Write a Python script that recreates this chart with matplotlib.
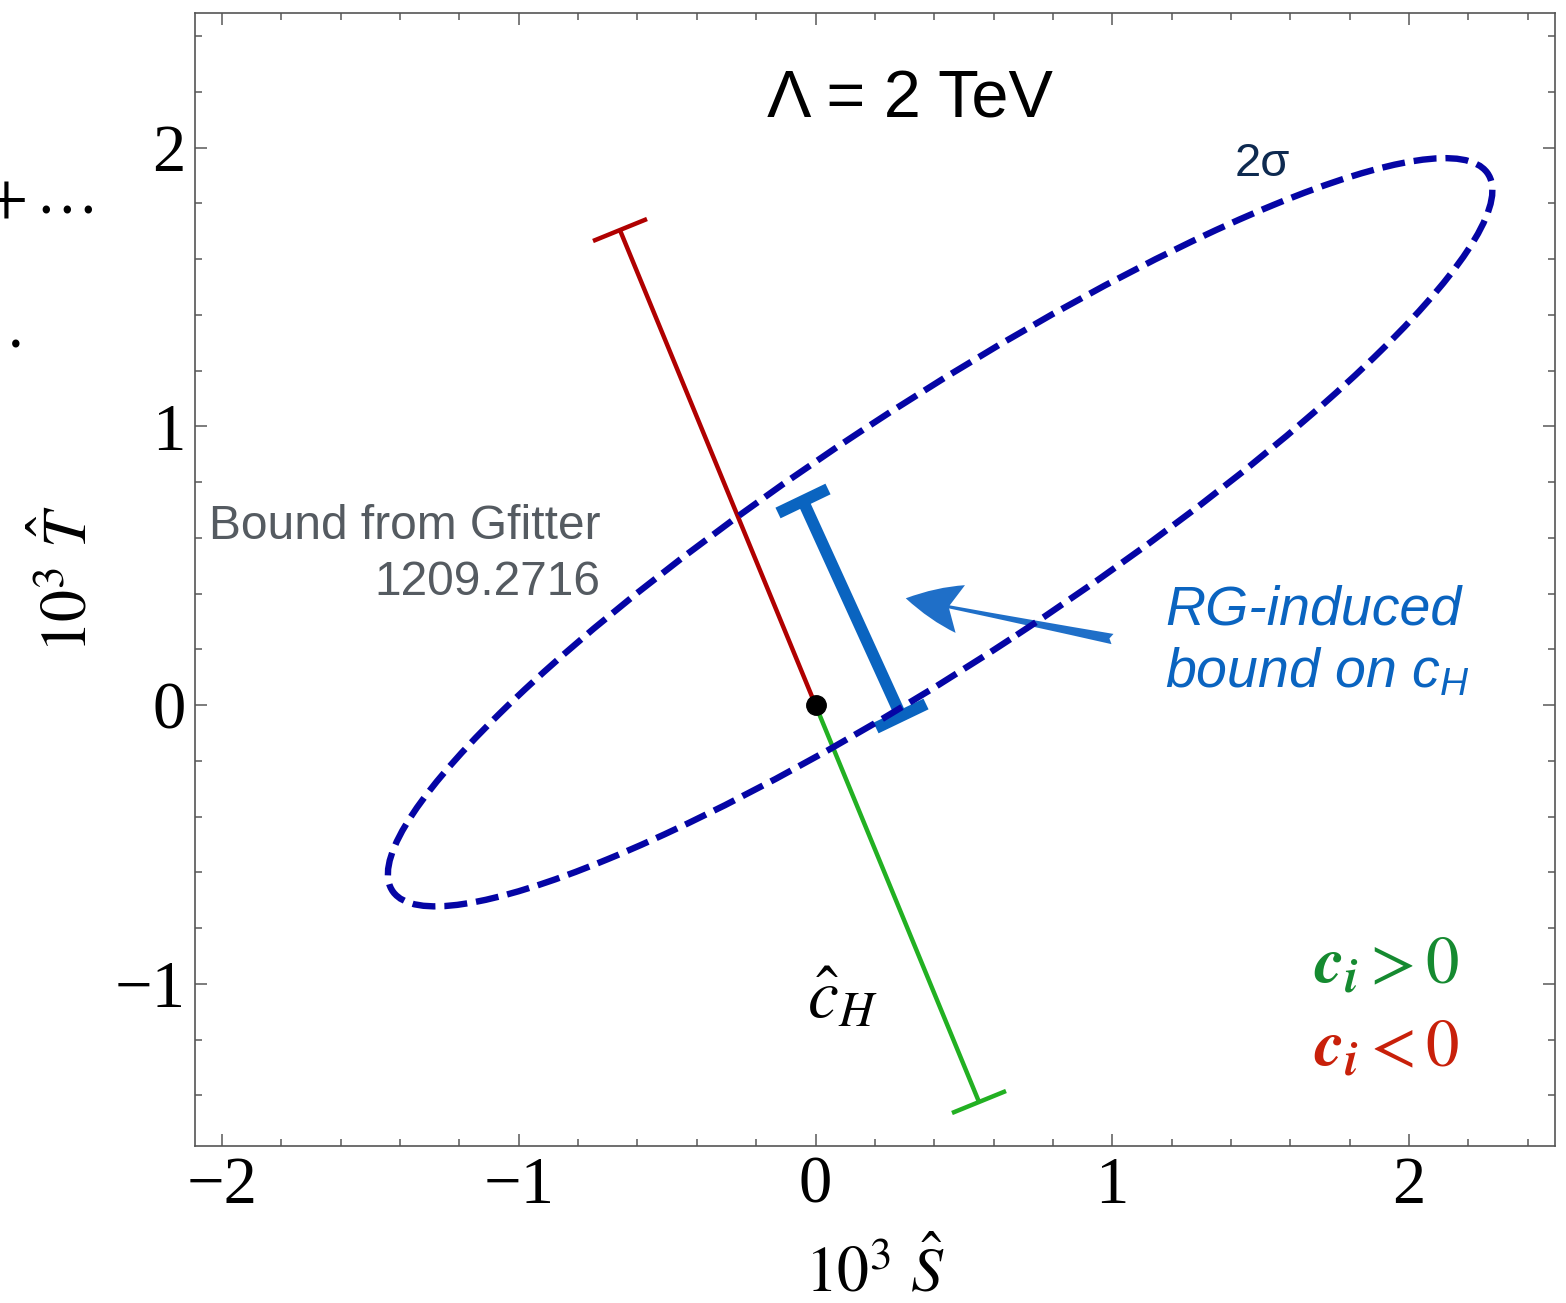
import numpy as np
import matplotlib
matplotlib.use("Agg")
import matplotlib.pyplot as plt
from matplotlib.patches import Ellipse
from matplotlib.markers import MarkerStyle
from matplotlib.transforms import Affine2D

# 2 sigma Gfitter ellipse in the (S, T) plane
ellipse_center = (0.42, 0.62)
ellipse_half_axes = (2.25, 0.45)
ellipse_angle = 35.0

# c_H direction: end points of the two branches
ch_origin = (0.0, 0.0)
ch_negative_end = (-0.659, 1.704)
ch_positive_end = (0.551, -1.424)

# RG-induced bound on c_H
rg_bound_S = [-0.042, 0.288]
rg_bound_T = [0.732, -0.039]

# pointer from the label to the bound
arrow_tail = (1.01, 0.235)
arrow_tip = (0.295, 0.385)

x_ticks = [-2, -1, 0, 1, 2]
y_ticks = [-1, 0, 1, 2]

plt.rcParams["font.family"] = ["Liberation Serif", "DejaVu Serif"]
plt.rcParams["mathtext.fontset"] = "stix"
# sans italic maths, only used where asked for through math_fontfamily
plt.rcParams["mathtext.rm"] = "Liberation Sans"
plt.rcParams["mathtext.it"] = "Liberation Sans:italic"

fig = plt.figure(figsize=(15.66, 13.03), dpi=100)
ax = fig.add_axes([195 / 1566, 157 / 1303, 1360 / 1566, 1133 / 1303])
ax.set_xlim(-2.091, 2.492)
ax.set_ylim(-1.582, 2.483)


def seg_angle(p, q):
    a = ax.transData.transform(p)
    b = ax.transData.transform(q)
    return np.degrees(np.arctan2(b[1] - a[1], b[0] - a[0]))


def capped_line(p, q, color, lw, cap_len, both=False):
    ax.plot([p[0], q[0]], [p[1], q[1]], color=color, lw=lw,
            solid_capstyle="butt", zorder=2)
    ang = seg_angle(p, q)
    m = MarkerStyle("_", transform=Affine2D().rotate_deg(ang + 90))
    ends = [q, p] if both else [q]
    for e in ends:
        ax.plot(e[0], e[1], marker=m, markersize=cap_len, markeredgewidth=lw,
                color=color, zorder=2)


# Gfitter branches
capped_line(ch_origin, ch_negative_end, "#b00000", 3.2, 42)
capped_line(ch_origin, ch_positive_end, "#22b022", 3.2, 42)

# RG-induced bound
rg_top = (rg_bound_S[0], rg_bound_T[0])
rg_bot = (rg_bound_S[1], rg_bound_T[1])
capped_line(rg_top, rg_bot, "#0a64c0", 8.5, 40, both=True)

# ellipse
ell = Ellipse(ellipse_center, 2 * ellipse_half_axes[0], 2 * ellipse_half_axes[1],
              angle=ellipse_angle, fill=False, edgecolor="#0505a5", lw=4.6,
              linestyle=(0, (3.6, 1.4)), zorder=3)
ax.add_patch(ell)

# origin
ax.plot(*ch_origin, "o", color="black", markersize=14, zorder=4)

# arrow
ax.annotate("", xy=arrow_tip, xytext=arrow_tail,
            arrowprops=dict(arrowstyle="fancy,head_length=0.8,head_width=0.7,tail_width=0.15",
                            mutation_scale=50, color="#1f6fc8", lw=0),
            zorder=2)

# texts
sans = ["Liberation Sans", "DejaVu Sans"]
ax.text(0.318, 2.17, "Λ = 2 TeV", family=sans, fontsize=48,
        ha="center", va="center")
ax.text(1.505, 1.94, "2σ", family=sans, fontsize=34, color="#0e2a50",
        ha="center", va="center")
ax.text(-0.726, 0.54, "Bound from Gfitter\n1209.2716", family=sans,
        fontsize=34.5, color="#555b61", ha="right", va="center",
        multialignment="right", linespacing=1.3)
ax.text(1.178, 0.225, "RG-induced\nbound on $c_H$", family=sans,
        fontsize=40, color="#0a64c0", style="italic", ha="left",
        va="center", linespacing=1.25, math_fontfamily="custom")
ax.text(0.09, -1.06, r"$\hat{c}_H$", fontsize=50, ha="center", va="center")
ax.text(2.172, -0.94, r"$\mathbfit{c}_{\mathbfit{i}} > 0$", fontsize=48,
        color="#158a30", ha="right", va="center")
ax.text(2.172, -1.238, r"$\mathbfit{c}_{\mathbfit{i}} < 0$", fontsize=48,
        color="#c8200a", ha="right", va="center")

# axes styling
ax.set_xticks(x_ticks)
ax.set_yticks(y_ticks)
ax.set_xticks(np.arange(-2.0, 2.5, 0.2), minor=True)
ax.set_yticks(np.arange(-1.4, 2.5, 0.2), minor=True)
ax.tick_params(which="both", direction="in", top=True, right=True,
               color="#666666", width=1.2)
ax.tick_params(which="major", length=8.6, labelsize=48, pad=7)
ax.tick_params(which="minor", length=5)
for s in ax.spines.values():
    s.set_color("#555555")
    s.set_linewidth(1.2)

ax.set_xlabel(r"$10^3\ \hat{S}$", fontsize=46, labelpad=17)
ax.set_ylabel(r"$10^3\ \hat{T}$", fontsize=46, labelpad=10)

# leftovers at the left margin, clipped by the figure edge as in the source
fig.text(-16 / 1566, 1 - 201 / 1303, "$+$", fontsize=45,
         ha="left", va="center")
fig.text(35 / 1566, 1 - 214 / 1303, "…", fontsize=45,
         ha="left", va="baseline")
fig.text(8 / 1566, 1 - 347 / 1303, ".", fontsize=45, ha="left",
         va="baseline")

fig.savefig("out.png", dpi=100)
